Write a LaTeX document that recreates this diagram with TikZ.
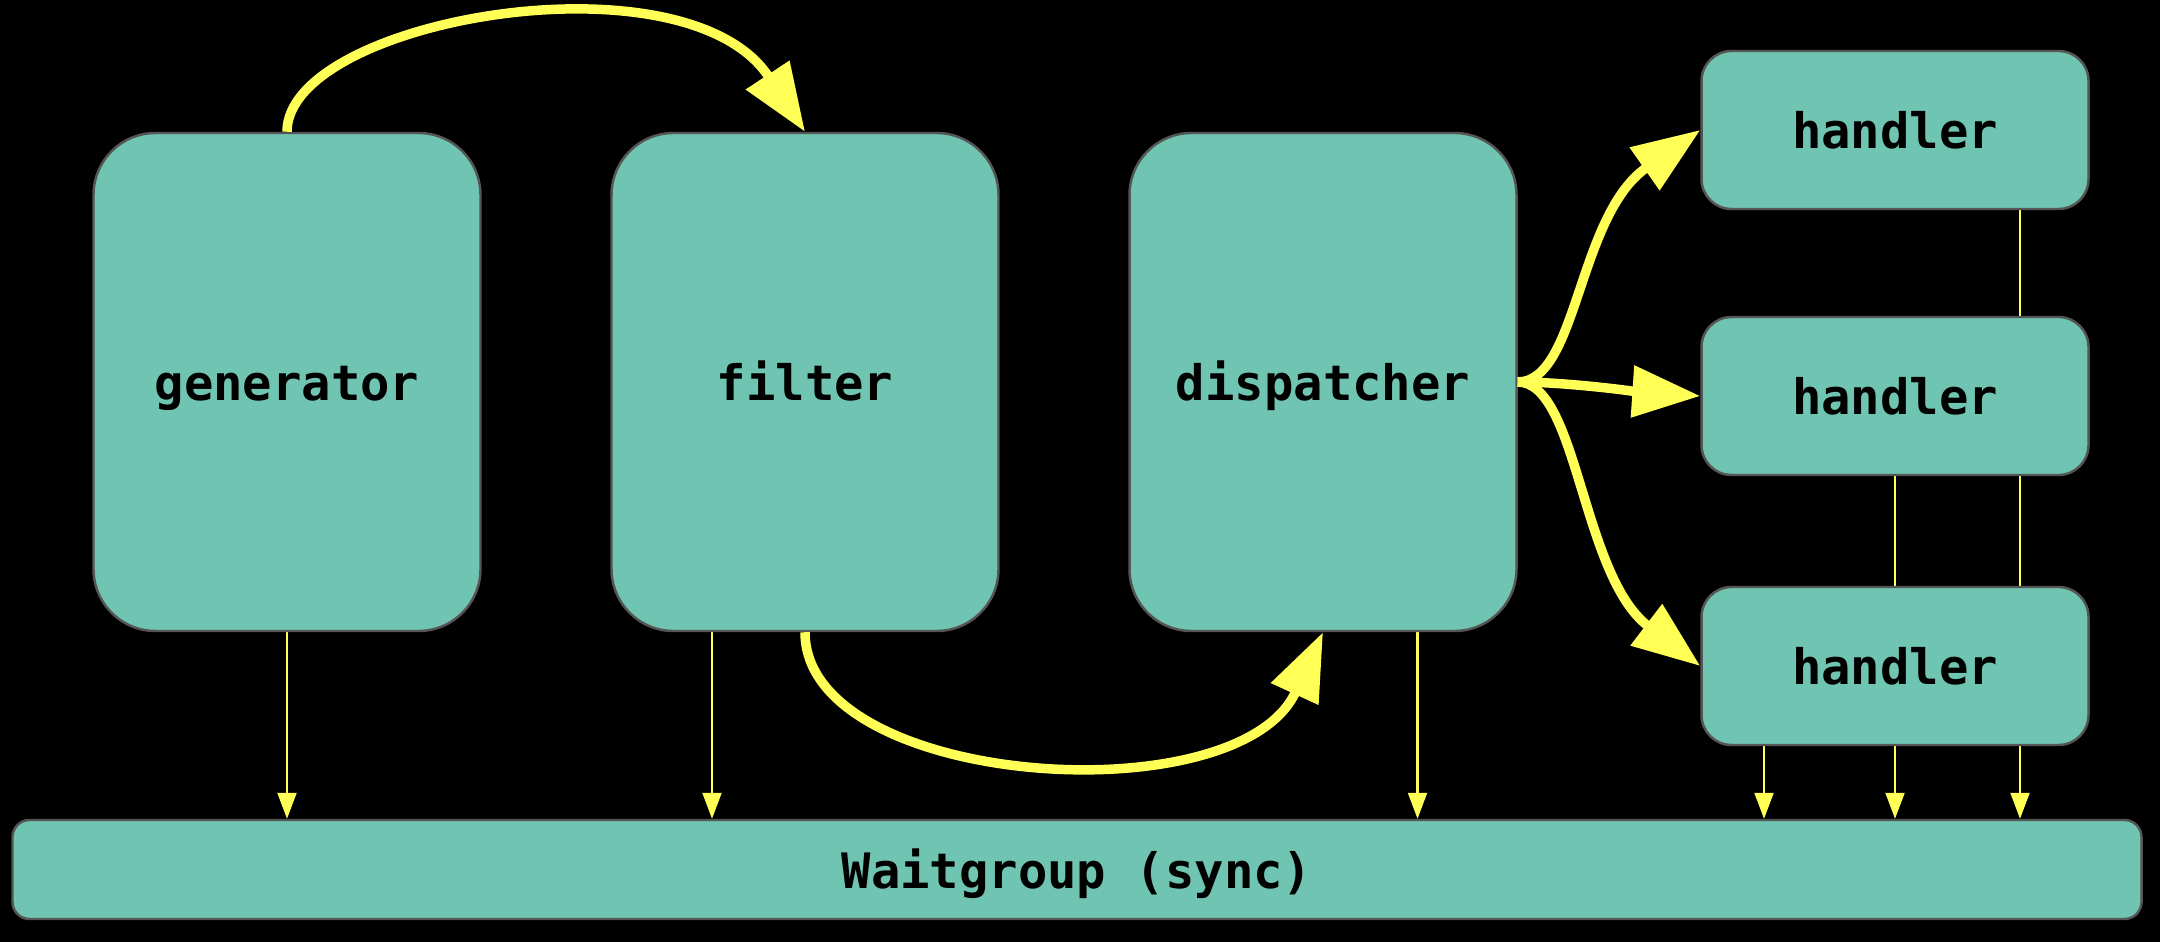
\documentclass[tikz,border=0pt]{standalone}
\usepackage{fontspec}
\setmonofont{DejaVu Sans Mono}
\usepackage{tikz}
\usetikzlibrary{arrows.meta,backgrounds}
\definecolor{boxfill}{HTML}{70C4B2}
\definecolor{boxedge}{HTML}{555555}
\definecolor{wire}{HTML}{FFFF55}
\newcommand{\labelfont}{\fontsize{13.9}{16}\selectfont\ttfamily\bfseries}
\tikzset{
  every node/.style={font=\labelfont,text=black,text height=10.6pt,text depth=0pt},
  box/.style={draw=boxedge,line width=0.7pt,fill=boxfill,rounded corners=#1,
              minimum width=38.7mm,inner sep=0pt},
  box/.default=6.2mm,
  stage/.style={box,minimum height=49.8mm},
  worker/.style={box=3mm,minimum height=15.8mm},
  flow/.style={-{Triangle[length=6.8mm,width=5mm]},line width=2.7pt,color=wire},
  sync/.style={-{Triangle[length=2.6mm,width=1.9mm]},line width=0.6pt,color=wire},
}

\begin{document}
\begin{tikzpicture}[x=1cm,y=1cm]
  \useasboundingbox (0,0) rectangle (21.6,-9.42);
  % ---------- pipeline stages ----------
  \node[stage] (gen)  at (2.87,-3.82)  {generator};
  \node[stage] (filt) at (8.05,-3.82)  {filter};
  \node[stage] (disp) at (13.23,-3.82) {dispatcher};

  % ---------- handlers ----------
  \node[worker] (h1) at (18.95,-1.30) {handler};
  \node[worker] (h2) at (18.95,-3.96) {handler};
  \node[worker] (h3) at (18.95,-6.66) {handler};

  % ---------- waitgroup ----------
  \node[box=1.7mm,minimum width=212.9mm,minimum height=9.9mm] (wg) at (10.77,-8.695)
       {Waitgroup (sync)};

  % ---------- data flow ----------
  \draw[flow] (gen.north) .. controls +(0,1.12) and +(-1.2,1.82) .. (filt.north);
  \draw[flow] (filt.south) .. controls +(0,-1.55) and +(-0.85,-1.85) .. (disp.south);
  \draw[flow] (disp.east) .. controls +(0.6,0) and +(-1.23,-0.86) .. (h1.west);
  \draw[flow] (disp.east) .. controls +(0.5,0) and +(-0.6,0.04) .. (h2.west);
  \draw[flow] (disp.east) .. controls +(0.6,0) and +(-1.19,0.91) .. (h3.west);

  % ---------- done signals, behind the boxes ----------
  \coordinate (fo) at ([xshift=-9.3mm]filt.south);
  \coordinate (do) at ([xshift=9.45mm]disp.south);
  \coordinate (h1o) at ([xshift=12.5mm]h1.south);
  \coordinate (h3o) at ([xshift=-13.1mm]h3.south);
  \begin{scope}[on background layer]
    \fill[black] (0,0) rectangle (21.6,-9.42);
    \draw[sync] (gen.south) -- (gen.south |- wg.north);
    \draw[sync] (fo) -- (fo |- wg.north);
    \draw[sync] (do) -- (do |- wg.north);
    \draw[sync] (h3o) -- (h3o |- wg.north);
    \draw[sync] (h2.south) -- (h2.south |- wg.north);
    \draw[sync] (h1o) -- (h1o |- wg.north);
  \end{scope}
\end{tikzpicture}
\end{document}
